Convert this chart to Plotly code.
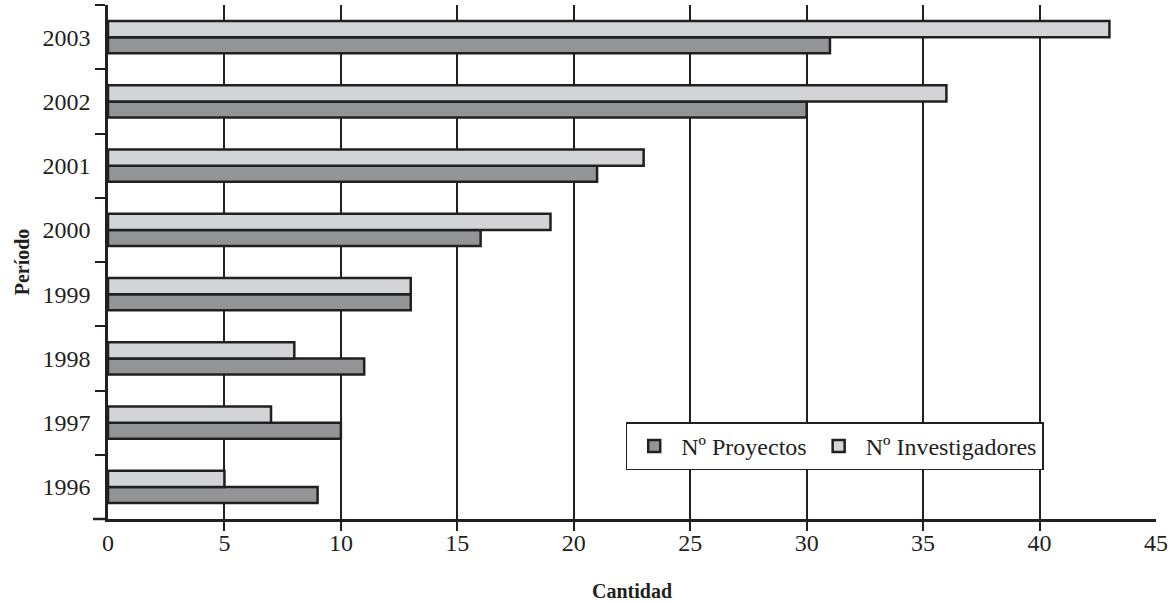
import plotly.graph_objects as go

years = ["1996", "1997", "1998", "1999", "2000", "2001", "2002", "2003"]
proyectos = [9, 10, 11, 13, 16, 21, 30, 31]
investigadores = [5, 7, 8, 13, 19, 23, 36, 43]
x_ticks = [0, 5, 10, 15, 20, 25, 30, 35, 40, 45]
grid_ticks = [5, 10, 15, 20, 25, 30, 35, 40]

FONT = "Times New Roman, Liberation Serif, serif"
EDGE = "#231f20"

fig = go.Figure()
fig.add_trace(go.Bar(y=years, x=proyectos, orientation="h", name="Nº Proyectos",
                     marker=dict(color="#939496", line=dict(color=EDGE, width=2.5))))
fig.add_trace(go.Bar(y=years, x=investigadores, orientation="h", name="Nº Investigadores",
                     marker=dict(color="#d3d4d6", line=dict(color=EDGE, width=2.5))))

fig.update_layout(
    width=1169, height=603,
    margin=dict(l=108, r=13, t=5, b=84, autoexpand=False),
    plot_bgcolor="white", paper_bgcolor="white",
    barmode="group", bargap=0.5, bargroupgap=0,
    font=dict(family=FONT, size=24, color="#231f20"),
    showlegend=True,
    legend=dict(orientation="h", x=0.494, y=0.188, xanchor="left", yanchor="top",
                bordercolor=EDGE, borderwidth=1.5, bgcolor="white",
                font=dict(family=FONT, size=24, color="#231f20"),
                traceorder="normal", itemwidth=44),
    xaxis=dict(range=[0, 45], tickvals=grid_ticks, showticklabels=False,
               ticks="outside", ticklen=9, tickwidth=2, tickcolor=EDGE,
               showgrid=True, gridcolor=EDGE, gridwidth=1.6, zeroline=False,
               showline=True, linecolor=EDGE, linewidth=2.5, automargin=False,
               title=dict(text="<b>Cantidad</b>", font=dict(family=FONT, size=20), standoff=55)),
    xaxis2=dict(range=[0, 45], overlaying="x", anchor="y", side="bottom",
                tickvals=x_ticks, ticktext=[str(v) for v in x_ticks],
                ticks="", showgrid=False, zeroline=False, showline=False,
                ticklabelstandoff=7, automargin=False,
                tickfont=dict(family=FONT, size=24, color="#231f20")),
    yaxis=dict(type="category", categoryorder="array", categoryarray=years,
               tickson="boundaries", ticks="outside", ticklen=10, tickwidth=2, tickcolor=EDGE,
               showline=True, linecolor=EDGE, linewidth=2.5, showgrid=False,
               ticklabelstandoff=10, automargin=False,
               title=dict(text="<b>Período</b>", font=dict(family=FONT, size=20), standoff=8)),
)

# invisible helper trace so that the label axis (xaxis2) is drawn
fig.add_trace(go.Scatter(x=[0], y=[years[0]], xaxis="x2", mode="markers",
                         marker=dict(opacity=0), showlegend=False, hoverinfo="skip"))

# axis line extension to the left of the origin
fig.add_shape(type="line", xref="paper", yref="paper", x0=-0.0143, x1=0, y0=0, y1=0,
              line=dict(color=EDGE, width=2.5))

fig.write_html("out.html", config={"displayModeBar": False},
               post_script="document.body.style.margin='0';")
